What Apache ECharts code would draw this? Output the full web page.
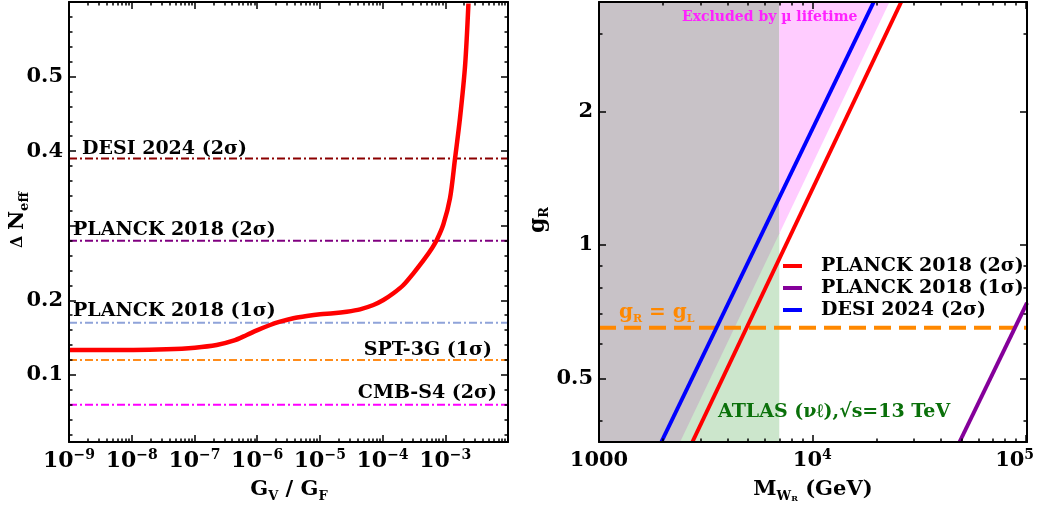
<!DOCTYPE html>
<html>
<head>
<meta charset="utf-8">
<script src="https://cdn.jsdelivr.net/npm/echarts@6/dist/echarts.min.js"></script>
<style>
  html, body { margin: 0; padding: 0; background: #fff; }
  #chart { width: 1040px; height: 509px; }
</style>
</head>
<body>
<div id="chart"></div>
<script>
// ---------- left panel: ΔNeff vs GV/GF ----------
const gvRatio = [1e-9, 1.06e-8, 3.6e-8, 1.02e-7, 2.26e-7, 4.18e-7, 6.82e-7, 1.01e-6, 1.61e-6, 2.32e-6,
                 3.78e-6, 6.18e-6, 1.01e-5, 1.64e-5, 2.68e-5, 4.38e-5, 7.13e-5, 1.03e-4, 1.49e-4, 2.15e-4,
                 3.1e-4, 4.48e-4, 5.73e-4, 7.31e-4, 9.33e-4, 1.19e-3, 1.43e-3, 1.72e-3, 2.07e-3, 2.34e-3]
const dNeff   = [0.1334, 0.1334, 0.1343, 0.1365, 0.140, 0.1458, 0.1535, 0.160, 0.1669, 0.1713,
                 0.1759, 0.1789, 0.1812, 0.1826, 0.1847, 0.1879, 0.1937, 0.2004, 0.2094, 0.2205,
                 0.2362, 0.2535, 0.266, 0.281, 0.302, 0.337, 0.390, 0.445, 0.515, 0.598]

const limitNames  = ['DESI 2024 (2σ)', 'PLANCK 2018 (2σ)', 'PLANCK 2018 (1σ)', 'SPT-3G (1σ)', 'CMB-S4 (2σ)']
const limitValues = [0.39, 0.28, 0.17, 0.12, 0.06]
const limitColors = ['#8b0000', '#800080', '#8fa3d9', '#ff8c1a', '#ff00ff']

const gvTickExp  = [-9, -8, -7, -6, -5, -4, -3]
const dnTickMajor = [0.1, 0.2, 0.3, 0.4, 0.5]
const dnTickLabel = [0.1, 0.2, 0.4, 0.5]

// ---------- right panel: gR vs MWR ----------
const mwRange = [1000, 101500]
const gRange  = [0.359, 3.54]

const desiM = [1960, 19400],  desiG = [0.359, 3.54]
const pl2M  = [2740, 26100],  pl2G  = [0.359, 3.54]
const pl1M  = [49000, 101500], pl1G = [0.359, 0.74]
const gLeft = 0.65

const atlasM = 7000
const muBoundM = [1000, 2400, 7000], muBoundG = [0.359, 0.359, 1.06]   // left of this: excluded (gray part)
const muPinkM  = [7000, 23000],      muPinkG  = [1.06, 3.54]

const mwTickVals  = [1000, 1e4, 1e5]
const gTickVals   = [0.5, 1, 2]
const gTickMinor  = [0.4, 0.6, 0.7, 0.8, 0.9, 3]

const FONT = 'DejaVu Serif'
const lg = Math.log10

function logMinors(from, to) {
  const out = []
  for (let d = from; d < to; d++) for (let k = 2; k <= 9; k++) out.push(d + lg(k))
  return out
}

function axes(dim, grid, min, max, majors, minors, label) {
  const sides = dim === 'x' ? ['bottom', 'top'] : ['left', 'right']
  const base = { type: 'value', gridIndex: grid, min, max, z: 10, splitLine: { show: false }, axisLabel: { show: false } }
  const tick = (vals, len) => ({ show: true, inside: true, length: len, customValues: vals, lineStyle: { color: '#000', width: 1.5 } })
  const line = { show: true, onZero: false, lineStyle: { color: '#000', width: 2 } }
  return [
    { ...base, position: sides[0], axisLine: line, axisTick: tick(majors, 7), axisLabel: label },
    { ...base, position: sides[0], axisLine: { show: false, onZero: false }, axisTick: tick(minors, 3.5) },
    { ...base, position: sides[1], axisLine: line, axisTick: tick(majors, 7) },
    { ...base, position: sides[1], axisLine: { show: false, onZero: false }, axisTick: tick(minors, 3.5) }
  ]
}

const txt = { fontFamily: FONT, fontWeight: 'bold', color: '#000' }

const xAxes = [
  ...axes('x', 0, -9, -2, [...gvTickExp, -2], logMinors(-9, -2), {
    show: true, customValues: gvTickExp, margin: 6,
    formatter: v => '{b|10}{s|−' + Math.abs(Math.round(v)) + '}',
    rich: { b: { ...txt, fontSize: 22, lineHeight: 26 }, s: { ...txt, fontSize: 14, lineHeight: 12, verticalAlign: 'top' } }
  }),
  ...axes('x', 1, lg(mwRange[0]), lg(mwRange[1]), mwTickVals.map(lg), logMinors(3, 5), {
    show: true, customValues: mwTickVals.map(lg), margin: 6,
    formatter: v => {
      const e = Math.round(v)
      if (e === 3) return '{b|1000}'
      return '{b|10}{' + (e === 5 ? 'e' : 's') + '|' + e + '}'
    },
    rich: {
      b: { ...txt, fontSize: 21, lineHeight: 26 },
      s: { ...txt, fontSize: 14, lineHeight: 12, verticalAlign: 'top' },
      e: { ...txt, fontSize: 14, lineHeight: 12, verticalAlign: 'top', padding: [0, 22, 0, 0] }
    }
  })
]

const dnMinors = []
for (let i = 1; i < 30; i++) if (i % 5 !== 0) dnMinors.push(i * 0.02)

const yAxes = [
  ...axes('y', 0, 0.01, 0.6, dnTickMajor, dnMinors, {
    show: true, customValues: dnTickLabel, margin: 6, formatter: v => v.toFixed(1),
    ...txt, fontSize: 21
  }),
  ...axes('y', 1, lg(gRange[0]), lg(gRange[1]), gTickVals.map(lg), gTickMinor.map(lg), {
    show: true, customValues: gTickVals.map(lg), margin: 6,
    formatter: v => String(gTickVals[gTickVals.map(lg).findIndex(t => Math.abs(t - v) < 1e-6)]),
    ...txt, fontSize: 21
  })
]

const series = []
// left panel
limitValues.forEach((v, i) => {
  series.push({
    name: limitNames[i] + ' limit', type: 'line', xAxisIndex: 0, yAxisIndex: 0,
    data: [[-9, v], [-2, v]], symbol: 'none', color: limitColors[i],
    lineStyle: { color: limitColors[i], width: 2, type: [8, 3, 2, 3] }, z: 3
  })
})
series.push({
  name: 'ΔNeff', type: 'line', xAxisIndex: 0, yAxisIndex: 0,
  data: gvRatio.map((x, i) => [lg(x), dNeff[i]]), symbol: 'none',
  smooth: 0.3, color: '#ff0000',
  lineStyle: { color: '#ff0000', width: 4.5 }, z: 4
})

// right panel fills
series.push({
  name: 'ATLAS', type: 'line', xAxisIndex: 4, yAxisIndex: 4, symbol: 'none',
  data: [[lg(mwRange[0]), lg(gRange[1])], [lg(atlasM), lg(gRange[1])]],
  lineStyle: { width: 0 }, areaStyle: { color: '#cce6cc', opacity: 1, origin: 'start' }, z: 1
})
series.push({
  name: 'mu-atlas', type: 'line', xAxisIndex: 4, yAxisIndex: 4, symbol: 'none',
  data: muBoundM.map((m, i) => [lg(m), lg(muBoundG[i])]),
  lineStyle: { width: 0 }, areaStyle: { color: '#c8c2c7', opacity: 1, origin: 'end' }, z: 1
})
series.push({
  name: 'mu', type: 'line', xAxisIndex: 4, yAxisIndex: 4, symbol: 'none',
  data: muPinkM.map((m, i) => [lg(m), lg(muPinkG[i])]),
  lineStyle: { width: 0 }, areaStyle: { color: '#ffccff', opacity: 1, origin: 'end' }, z: 1
})
series.push({
  name: 'gR=gL', type: 'line', xAxisIndex: 4, yAxisIndex: 4, symbol: 'none',
  data: mwRange.map(m => [lg(m), lg(gLeft)]), color: '#ff8800',
  lineStyle: { color: '#ff8800', width: 4, type: [17, 8] }, z: 3
})
const rightLines = [
  ['PLANCK 2018 (2σ)', pl2M, pl2G, '#ff0000'],
  ['PLANCK 2018 (1σ)', pl1M, pl1G, '#85009a'],
  ['DESI 2024 (2σ)', desiM, desiG, '#0000ff']
]
rightLines.forEach(([name, M, G, c]) => {
  series.push({
    name, type: 'line', xAxisIndex: 4, yAxisIndex: 4, symbol: 'none', color: c,
    data: M.map((m, i) => [lg(m), lg(G[i])]),
    lineStyle: { color: c, width: 4 }, z: 4
  })
})

function label(text, x, y, opts = {}) {
  return {
    type: 'text', x, y, z: 100, rotation: opts.rotation || 0,
    style: {
      text, fill: opts.color || '#000', fontFamily: FONT, fontWeight: 'bold',
      fontSize: opts.size || 19, align: opts.align || 'left', verticalAlign: 'middle',
      rich: opts.rich
    }
  }
}
const sub = (size) => ({ fontFamily: FONT, fontWeight: 'bold', fontSize: size, verticalAlign: 'bottom', lineHeight: size + 4 })

const graphics = [
  label('DESI 2024 (2σ)', 82, 149),
  label('PLANCK 2018 (2σ)', 73, 230),
  label('PLANCK 2018 (1σ)', 73, 311),
  label('SPT-3G (1σ)', 492, 350, { align: 'right' }),
  label('CMB-S4 (2σ)', 497, 393, { align: 'right' }),
  label('Excluded by µ lifetime', 682, 17, { size: 14, color: '#ff22ff' }),
  label('ATLAS (νℓ),√s=13 TeV', 718, 412, { color: '#0a700a' }),
  label('{a|g}{s|R}{a| = g}{s|L}', 619, 313, {
    color: '#ff8800',
    rich: { a: { fontFamily: FONT, fontWeight: 'bold', fontSize: 20, lineHeight: 24, fill: '#ff8800' },
            s: { ...sub(11), fill: '#ff8800' } }
  }),
  label('{a|G}{s|V}{a| / G}{s|F}', 289, 490, {
    align: 'center',
    rich: { a: { fontFamily: FONT, fontWeight: 'bold', fontSize: 21, lineHeight: 26 }, s: sub(13) }
  }),
  label('{a|M}{s|W}{t|R}{a| (GeV)}', 813, 490, {
    align: 'center',
    rich: { a: { fontFamily: FONT, fontWeight: 'bold', fontSize: 21, lineHeight: 26 }, s: sub(13), t: sub(8) }
  }),
  label('{d|Δ }{a|N}{s|eff}', 18, 220, {
    align: 'center', rotation: Math.PI / 2,
    rich: { d: { fontFamily: FONT, fontWeight: 'bold', fontSize: 16, lineHeight: 26 },
            a: { fontFamily: FONT, fontWeight: 'bold', fontSize: 21, lineHeight: 26 }, s: sub(13) }
  }),
  label('{a|g}{s|R}', 538, 220, {
    align: 'center', rotation: Math.PI / 2,
    rich: { a: { fontFamily: FONT, fontWeight: 'bold', fontSize: 22, lineHeight: 26 }, s: sub(13) }
  })
]

const chart = echarts.init(document.getElementById('chart'))
chart.setOption({
  animation: false,
  backgroundColor: '#fff',
  grid: [
    { left: 69, top: 2, width: 439, height: 440, outerBoundsMode: 'none' },
    { left: 599, top: 2, width: 428, height: 440, outerBoundsMode: 'none' }
  ],
  xAxis: xAxes,
  yAxis: yAxes,
  legend: {
    data: rightLines.map(r => r[0]),
    orient: 'vertical', left: 778, top: 250,
    icon: 'rect', itemWidth: 19, itemHeight: 4, itemGap: 0,
    selectedMode: false,
    textStyle: { fontFamily: FONT, fontWeight: 'bold', fontSize: 19, color: '#000', lineHeight: 22, padding: [0, 0, 0, 14] }
  },
  graphic: graphics,
  series
})
</script>
</body>
</html>
